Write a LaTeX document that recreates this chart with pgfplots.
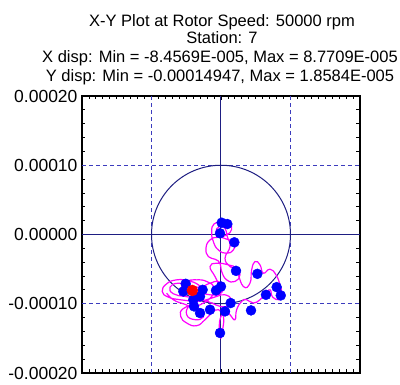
\documentclass[border=0pt]{standalone}
\usepackage{pgfplots}
\pgfplotsset{compat=1.18}
\usepackage{pgfplotstable}
\usepackage{fontspec}
\setmainfont{Liberation Sans}
\definecolor{gridblue}{RGB}{60,60,190}
\definecolor{navy}{RGB}{30,30,130}
\definecolor{dotblue}{RGB}{0,0,255}
\definecolor{mag}{RGB}{255,0,255}

% orbit, in units of 1e-5
\pgfplotstableread{
x y
-0.14 -7.51
-0.86 -6.07
-1.58 -4.63
-0.62 -4.15
1.06 -4.39
2.25 -4.87
2.73 -5.83
2.01 -6.79
0.82 -6.55
0.10 -5.35
-0.14 -4.15
-0.86 -3.57
-1.82 -3.19
-2.16 -1.99
-1.58 -0.79
-0.38 -0.41
0.91 -0.70
2.01 -1.18
1.77 -2.23
0.82 -2.71
-0.38 -2.23
-1.10 -1.03
-1.34 0.41
-1.01 1.51
0.10 1.85
1.20 1.70
1.53 0.74
0.82 -0.07
-0.14 -0.22
-0.72 0.41
-0.24 1.13
0.58 0.89
0.91 -0.31
1.29 -1.75
0.58 -3.43
1.29 -4.63
2.25 -5.35
3.21 -7.51
4.17 -7.03
4.41 -5.11
4.89 -3.91
5.61 -4.39
6.09 -5.59
7.05 -5.01
7.91 -5.83
8.49 -7.27
8.77 -8.71
8.39 -9.42
7.43 -9.04
7.05 -7.99
6.33 -8.71
5.61 -9.42
4.65 -9.90
3.69 -9.42
2.97 -9.66
2.25 -10.86
2.01 -12.30
1.29 -11.58
0.58 -10.86
0.10 -11.58
-0.24 -13.02
-0.05 -14.94
0.24 -13.74
0.34 -11.82
-0.38 -10.86
-1.34 -11.34
-2.30 -12.30
-3.50 -13.17
-4.94 -12.78
-5.80 -11.82
-5.52 -10.77
-4.22 -10.38
-2.78 -10.96
-2.54 -11.92
-3.74 -12.30
-4.94 -11.58
-4.46 -10.14
-3.02 -9.42
-1.34 -9.90
-0.14 -10.38
1.06 -10.29
1.53 -9.42
0.58 -8.71
-0.62 -8.94
-2.06 -9.42
-3.98 -9.66
-5.90 -9.42
-7.58 -9.04
-8.46 -8.23
-7.82 -7.12
-6.38 -6.55
-4.70 -6.69
-3.26 -7.27
-2.54 -8.23
-3.50 -9.04
-5.18 -8.94
-6.86 -8.56
-7.34 -7.60
-6.14 -7.03
-4.46 -7.41
-3.02 -7.60
-1.58 -7.03
-0.38 -6.79
0.34 -7.51
-0.14 -8.56
-1.58 -8.71
-3.02 -8.47
-4.46 -8.23
-5.66 -7.75
-4.94 -6.79
-3.50 -6.55
-2.06 -6.79
-0.86 -7.75
-1.34 -8.94
-2.54 -9.90
-3.98 -10.38
-5.42 -10.00
-6.86 -9.42
-7.82 -8.47
}\orbit

% once-per-revolution points, in units of 1e-5
\pgfplotstableread{
x y
0.10 1.70
0.91 1.51
-0.14 0.17
1.92 -1.13
2.16 -5.25
5.23 -5.68
8.01 -7.60
8.60 -8.80
6.47 -8.71
4.32 -10.96
1.39 -9.90
0.58 -11.10
-0.14 -14.22
0.00 -7.51
-0.72 -8.08
-2.64 -7.99
-3.02 -8.94
-3.88 -10.38
-3.02 -11.34
-1.58 -10.86
-5.08 -7.12
-5.42 -8.23
-3.98 -9.42
}\dots

\begin{document}
\begin{tikzpicture}[x=1pt,y=1pt]
\useasboundingbox (0,0) rectangle (400,385);
\begin{axis}[
  at={(82pt,12pt)}, anchor=south west,
  scale only axis, width=278pt, height=277pt,
  xmin=-20, xmax=20, ymin=-20, ymax=20,
  xtick={-20,-10,0,10,20}, xticklabels={},
  ytick={-20,-10,0,10,20},
  yticklabels={-0.00020,-0.00010,0.00000,0.00010,0.00020},
  minor xtick={-19,-18,...,19},
  minor ytick={-18,-16,...,18},
  tick align=inside,
  major tick length=4pt, minor tick length=3.5pt,
  tick style={black, line width=0.8pt},
  axis line style={black, line width=1.5pt},
  yticklabel style={font=\fontsize{17.5}{17.5}\selectfont, xshift=-1pt},
  clip=true,
]
\draw[gridblue, dash pattern=on 4pt off 3pt, line width=1pt] (-10,-20) -- (-10,20);
\draw[gridblue, dash pattern=on 4pt off 3pt, line width=1pt] (10,-20) -- (10,20);
\draw[gridblue, dash pattern=on 4pt off 3pt, line width=1pt] (-20,-10) -- (20,-10);
\draw[gridblue, dash pattern=on 4pt off 3pt, line width=1pt] (-20,10) -- (20,10);
\draw[navy, line width=1pt] (0,-20) -- (0,20);
\draw[navy, line width=1pt] (-20,0) -- (20,0);
\draw[navy, line width=1pt] (0,0) circle[radius=10];
\addplot[mag, line width=1.2pt, smooth, tension=0.85, no marks] table {\orbit};
\addplot[only marks, mark=*, mark size=5pt, mark options={fill=dotblue, draw=dotblue}] table {\dots};
\addplot[only marks, mark=*, mark size=5.5pt, mark options={fill=red, draw=red}] coordinates {(-4.12,-8.08)};
\end{axis}
\begin{scope}[font=\fontsize{16.5}{16.5}\selectfont]
\node[anchor=base] at (222,358) {X-Y Plot at Rotor Speed: 50000 rpm};
\node[anchor=base] at (222,341) {Station: 7};
\node[anchor=base] at (220,322) {X disp: Min = -8.4569E-005, Max = 8.7709E-005};
\node[anchor=base] at (220,303) {Y disp: Min = -0.00014947, Max = 1.8584E-005};
\end{scope}
\end{tikzpicture}
\end{document}
